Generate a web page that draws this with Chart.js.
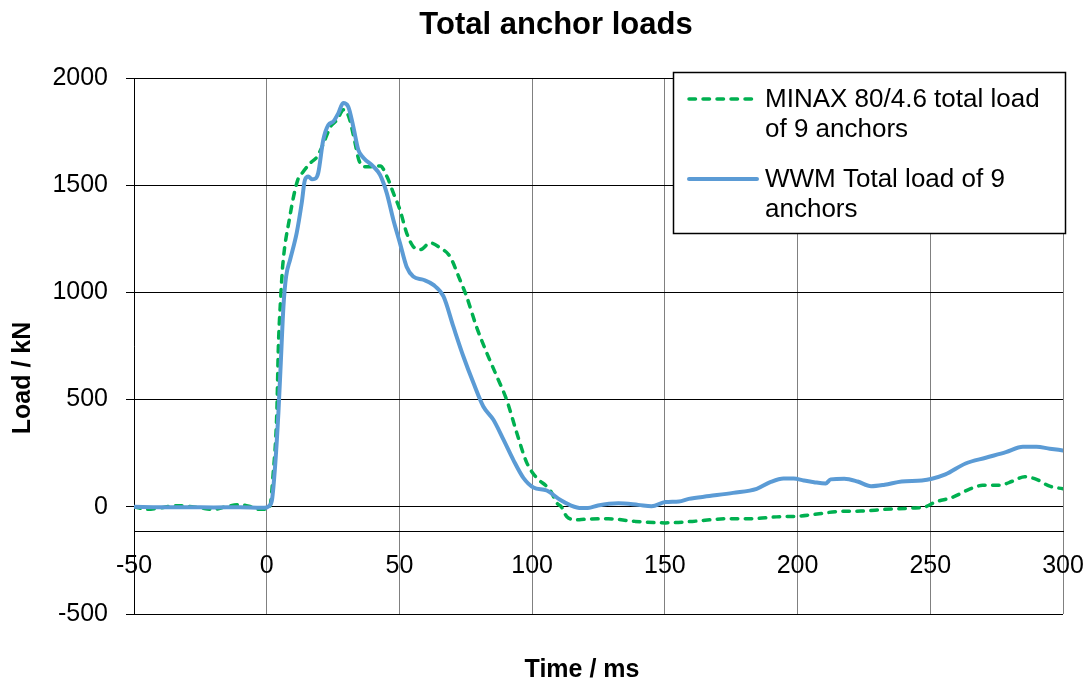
<!DOCTYPE html>
<html>
<head>
<meta charset="utf-8">
<title>Total anchor loads</title>
<script src="https://cdn.jsdelivr.net/npm/chart.js@4/dist/chart.umd.min.js"></script>
<style>
  body { margin: 0; background: #fff; }
  #wrap { width: 1088px; height: 684px; }
</style>
</head>
<body>
<div id="wrap"><canvas id="loadChart" width="1088" height="684"></canvas></div>
<script>
// DATA
const chartTitle = 'Total anchor loads'
const xTitle = 'Time / ms'
const yTitle = 'Load / kN'

const minaxLabel = 'MINAX 80/4.6 total load of 9 anchors'
const minaxTime = [-50, -45, -40, -35, -30, -25, -20, -15, -10, -6, -3, 0, 1, 1.5, 2.25, 3.8, 4.4, 5.3, 6, 8.5, 11.7,
  13.4, 16.5, 19, 21.5, 24, 26.5, 29, 30.9, 32.8, 34.7, 36.6, 39, 42.8, 45.3, 47.7, 50.2, 52.7, 55.2, 58,
  61.5, 65.3, 69, 72.8, 75.3, 79, 82.9, 86.7, 90.4, 94.2, 98, 101.7, 105.5, 107, 109.3, 111, 113, 116.8,
  118.5, 128.7, 138.8, 150.2, 160.4, 173.1, 182, 192.1, 199.8, 207.4, 215, 223.9, 232.8, 243, 248.1,
  251.9, 258.3, 264.6, 269.7, 276.1, 281.1, 285.6, 290, 295, 300]
const minaxLoad = [0, -12, -5, 5, 3, -5, -12, 2, 10, 0, -12, -12, -5, 20, 126, 437, 748, 981, 1121, 1339, 1525,
  1557, 1604, 1633, 1698, 1772, 1805, 1852, 1820, 1726, 1618, 1586, 1586, 1590, 1540, 1464, 1385, 1278, 1214, 1200,
  1231, 1208, 1168, 1059, 981, 841, 718, 608, 499, 345, 205, 135, 95, 73, 18, 0, -45, -61,
  -59, -56, -68, -75, -68, -56, -56, -47, -44, -34, -22, -20, -12, -6, 0,
  22, 44, 81, 100, 100, 120, 140, 128, 96, 84]

const wwmLabel = 'WWM Total load of 9 anchors'
const wwmTime = [-50, -40, -30, -20, -10, -2, 0, 1, 2, 3.25, 4.4, 5.3, 6.3, 7.3, 8.8, 11.3, 13.2, 14.4, 15.7, 17,
  18.2, 19.4, 21.3, 23.2, 25.1, 27, 28.8, 30.7, 32.6, 34.5, 36.4, 40.2, 42.7, 45.2, 47.7, 50.2, 52.7, 55.2,
  59, 62.8, 66.6, 70.3, 74.1, 77.9, 81.6, 85.4, 89.2, 92.9, 96.7, 100.5, 105.5, 110.5, 114.7, 118.5, 121,
  124.8, 132.5, 140, 145, 150.2, 155.3, 159, 166.8, 175.7, 184.6, 189.7, 194.7, 198.5, 202.3, 206.2, 210.6,
  212.5, 217.6, 222.6, 227.7, 232.8, 239.2, 246.8, 250.6, 255.7, 263.3, 270.9, 278.5, 284.9, 290, 295, 300]
const wwmLoad = [0, -2, -2, -3, -2, -5, -3, 5, 33, 205, 438, 672, 934, 1074, 1152, 1278, 1418, 1525, 1540, 1528,
  1530, 1557, 1711, 1781, 1797, 1836, 1883, 1867, 1774, 1665, 1628, 1587, 1548, 1464, 1339, 1230, 1120, 1074,
  1059, 1035, 981, 841, 701, 577, 468, 406, 313, 219, 135, 90, 76, 33, 6, -6, -6,
  6, 16, 9, 3, 22, 25, 37, 50, 65, 84, 115, 132, 132, 123, 115, 109,
  128, 131, 118, 96, 103, 118, 123, 131, 151, 202, 229, 255, 280, 280, 271, 263]

const xTicks = { min: -50, max: 300, step: 50 }
const yTicks = { min: -500, max: 2000, step: 500 }
const xAxisCrossing = -117

const minaxColor = '#00b050'
const wwmColor = '#5b9bd5'
const fontFamily = '"Liberation Sans", Arial, sans-serif'

function toPoints(xs, ys) {
  return xs.map((x, i) => ({ x: x, y: ys[i] }))
}

// TEXT + LEGEND
function wrapText(ctx, text, maxWidth) {
  const words = text.split(' ')
  const lines = []
  let line = ''
  words.forEach(w => {
    const test = line ? line + ' ' + w : w
    if (ctx.measureText(test).width > maxWidth && line) {
      lines.push(line)
      line = w
    } else {
      line = test
    }
  })
  lines.push(line)
  return lines
}

const textPlugin = {
  id: 'textPlugin',
  afterDraw(chart) {
    const ctx = chart.ctx
    ctx.save()
    ctx.fillStyle = '#000'
    ctx.textAlign = 'center'
    ctx.textBaseline = 'middle'

    ctx.font = 'bold 31px ' + fontFamily
    ctx.fillText(chartTitle, 556, 25)

    ctx.font = 'bold 25px ' + fontFamily
    ctx.fillText(xTitle, 582, 670)

    ctx.save()
    ctx.translate(23, 378)
    ctx.rotate(-Math.PI / 2)
    ctx.fillText(yTitle, 0, 0)
    ctx.restore()

    // legend box
    ctx.fillStyle = '#fff'
    ctx.fillRect(673.5, 72.5, 392, 161)
    ctx.strokeStyle = '#000'
    ctx.lineWidth = 1.5
    ctx.strokeRect(673.5, 72.5, 392, 161)

    ctx.font = '26px ' + fontFamily
    ctx.textAlign = 'left'
    ctx.textBaseline = 'alphabetic'
    ctx.fillStyle = '#000'

    const entries = chart.data.datasets
    const rowTop = [99, 179]
    entries.forEach((ds, i) => {
      const ly = rowTop[i]
      ctx.save()
      ctx.strokeStyle = ds.borderColor
      ctx.lineWidth = ds.borderWidth
      ctx.lineCap = 'round'
      ctx.setLineDash(ds.borderDash || [])
      ctx.beginPath()
      ctx.moveTo(689, ly)
      ctx.lineTo(757, ly)
      ctx.stroke()
      ctx.restore()
      const lines = wrapText(ctx, ds.label, 290)
      lines.forEach((t, j) => {
        ctx.fillText(t, 765, ly + 8 + j * 29.5)
      })
    })
    ctx.restore()
  }
}

// CHART
const dataLoads = {
  datasets: [{
    label: minaxLabel,
    data: toPoints(minaxTime, minaxLoad),
    borderColor: minaxColor,
    borderWidth: 3.5,
    borderDash: [6.5, 7.5],
    borderCapStyle: 'round',
    cubicInterpolationMode: 'monotone',
    pointRadius: 0,
    fill: false,
    order: 2
  }, {
    label: wwmLabel,
    data: toPoints(wwmTime, wwmLoad),
    borderColor: wwmColor,
    borderWidth: 4,
    borderCapStyle: 'round',
    cubicInterpolationMode: 'monotone',
    pointRadius: 0,
    fill: false,
    order: 1
  }]
}

const configLoads = {
  type: 'line',
  data: dataLoads,
  options: {
    responsive: false,
    animation: false,
    devicePixelRatio: 1,
    layout: {
      padding: { top: 78, right: 25, bottom: 70, left: 0 }
    },
    scales: {
      x: {
        type: 'linear',
        min: xTicks.min,
        max: xTicks.max,
        position: { y: xAxisCrossing },
        afterFit: s => {
          s.height = 0
          s.paddingLeft = 0
          s.paddingRight = 0
        },
        ticks: {
          stepSize: xTicks.step,
          padding: 19,
          color: '#000',
          font: { family: fontFamily, size: 25 },
          maxRotation: 0,
          callback: v => String(v)
        },
        grid: { color: '#808080', lineWidth: 1, drawTicks: false },
        border: { color: '#000', width: 1 }
      },
      y: {
        type: 'linear',
        min: yTicks.min,
        max: yTicks.max,
        afterFit: s => { s.width = 134 },
        ticks: {
          stepSize: yTicks.step,
          padding: 18,
          color: '#000',
          font: { family: fontFamily, size: 25 },
          callback: v => String(v)
        },
        grid: { color: '#000', lineWidth: 1, tickLength: 8 },
        border: { color: '#000', width: 1 }
      }
    },
    plugins: {
      legend: { display: false },
      title: { display: false },
      tooltip: { enabled: false }
    }
  },
  plugins: [textPlugin]
}

const loadChart = new Chart(
  document.getElementById('loadChart'),
  configLoads
)
</script>
</body>
</html>
